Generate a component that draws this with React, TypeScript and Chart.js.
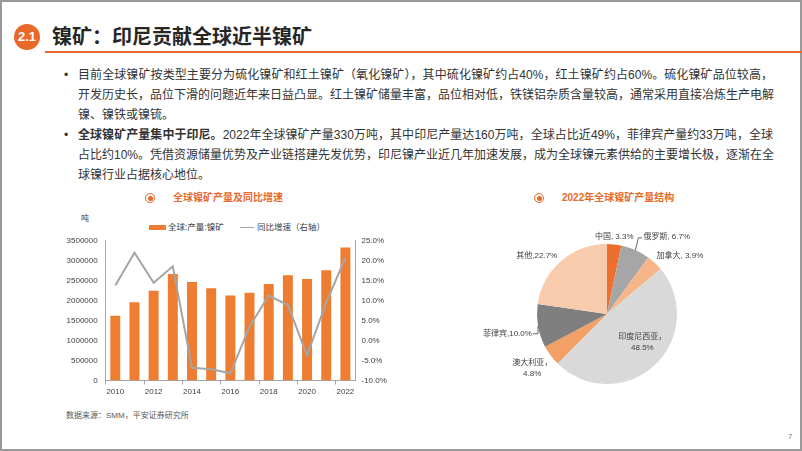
import React, { useEffect, useRef } from "react";
import { Chart, registerables } from "chart.js";

Chart.register(...registerables);

// ---------- data ----------
const YEARS = ["2010", "2011", "2012", "2013", "2014", "2015", "2016", "2017", "2018", "2019", "2020", "2021", "2022"];
const OUTPUT_T = [1620000, 1960000, 2250000, 2670000, 2470000, 2310000, 2130000, 2200000, 2420000, 2640000, 2540000, 2760000, 3330000];
const YOY_PCT = [13.8, 22.0, 14.5, 18.6, -6.8, -7.2, -8.2, 3.5, 11.3, 8.9, -3.7, 9.5, 20.8];
const BAR_LABEL = "全球:产量:镍矿";
const LINE_LABEL = "同比增速（右轴）";

const PIE_NAMES = ["中国", "俄罗斯", "加拿大", "印度尼西亚", "澳大利亚", "菲律宾", "其他"];
const PIE_SHARES = [3.3, 6.7, 3.9, 48.5, 4.8, 10.0, 22.7];
const PIE_SEPS = [", ", ", ", ", ", "，\n", "，\n", ",", ","];

// ---------- styles ----------
const FONT = '"Liberation Sans", "Noto Sans CJK SC", sans-serif';
const ORANGE = "#E8692A";
const PIE_COLORS = ["#EE6F2D", "#A6A6A6", "#F6B68A", "#D9D9D9", "#F3A066", "#7F7F7F", "#F8CBAD"];
// label placement relative to each slice: radial factor & angular nudge (deg)
const PIE_LABEL_PLACE = [
  { f: 1.11, nudge: -0.6, leader: "" },
  { f: 1.4, nudge: 13.6, leader: "up" },
  { f: 1.33, nudge: 8.5, leader: "" },
  { f: 0.645, nudge: -9, leader: "" },
  { f: 1.32, nudge: 0.6, leader: "" },
  { f: 1.45, nudge: -1.4, leader: "bracket" },
  { f: 1.3, nudge: -9.6, leader: "" },
];

const pieLabelPlugin = {
  id: "pieLabels",
  afterDatasetsDraw(chart: any) {
    const ctx = chart.ctx as CanvasRenderingContext2D;
    const meta = chart.getDatasetMeta(0);
    ctx.save();
    ctx.font = `8px ${FONT}`;
    ctx.fillStyle = "#404040";
    ctx.strokeStyle = "#404040";
    ctx.lineWidth = 0.8;
    ctx.textAlign = "center";
    ctx.textBaseline = "middle";
    meta.data.forEach((arc: any, i: number) => {
      const { x, y, startAngle, endAngle, outerRadius } = arc.getProps(
        ["x", "y", "startAngle", "endAngle", "outerRadius"],
        true
      );
      const mid = (startAngle + endAngle) / 2;
      const p = PIE_LABEL_PLACE[i];
      const a = mid + (p.nudge * Math.PI) / 180;
      const lx = x + Math.cos(a) * outerRadius * p.f;
      const ly = y + Math.sin(a) * outerRadius * p.f;
      const text = PIE_NAMES[i] + PIE_SEPS[i] + PIE_SHARES[i].toFixed(1) + "%";
      const lines = text.split("\n");
      const lh = 11;
      lines.forEach((ln, k) => {
        ctx.fillText(ln, lx, ly + (k - (lines.length - 1) / 2) * lh);
      });
      const w = Math.max(...lines.map((l) => ctx.measureText(l).width));
      const ex = x + Math.cos(mid) * outerRadius;
      const ey = y + Math.sin(mid) * outerRadius;
      if (p.leader === "up") {
        const left = lx - w / 2;
        ctx.beginPath();
        ctx.moveTo(ex, ey);
        ctx.lineTo(left - 5, ly + 1.5);
        ctx.lineTo(left - 1.5, ly + 1.5);
        ctx.stroke();
      } else if (p.leader === "bracket") {
        const right = lx + w / 2;
        ctx.beginPath();
        ctx.moveTo(ex, ey);
        ctx.lineTo(ex, ly);
        ctx.lineTo(right + 1, ly);
        ctx.stroke();
      }
    });
    ctx.restore();
  },
};

const abs = (o: React.CSSProperties): React.CSSProperties => ({ position: "absolute", whiteSpace: "nowrap", ...o });

function Icon({ cx, cy }: { cx: number; cy: number }) {
  return (
    <div style={abs({ left: cx - 5, top: cy - 5, width: 10, height: 10 })}>
      <div style={{ position: "absolute", inset: 0, border: `1.3px solid ${ORANGE}`, borderRadius: "50%", boxSizing: "border-box" }} />
      <div style={{ position: "absolute", left: 2.5, top: 2.5, width: 5, height: 5, background: ORANGE, borderRadius: "50%" }} />
    </div>
  );
}

export default function App() {
  const barRef = useRef<HTMLCanvasElement>(null);
  const pieRef = useRef<HTMLCanvasElement>(null);

  useEffect(() => {
    Chart.defaults.font.family = FONT;
    const axisColor = "#a6a6a6";
    const tickColor = "#404040";
    const c1 = new Chart(barRef.current!, {
      type: "bar",
      data: {
        labels: YEARS,
        datasets: [
          {
            type: "bar",
            label: BAR_LABEL,
            data: OUTPUT_T,
            backgroundColor: "#ED7D31",
            yAxisID: "y",
            barPercentage: 0.52,
            categoryPercentage: 1,
            order: 1,
          } as any,
          {
            type: "line",
            label: LINE_LABEL,
            data: YOY_PCT,
            borderColor: "#A5A5A5",
            borderWidth: 2,
            pointRadius: 0,
            tension: 0,
            yAxisID: "y1",
            order: 0,
          } as any,
        ],
      },
      options: {
        responsive: false,
        animation: false,
        layout: { padding: { top: 8, left: 0, right: 0, bottom: 0 } },
        plugins: { legend: { display: false }, tooltip: { enabled: false } },
        scales: {
          x: {
            offset: true,
            grid: {
              display: true,
              drawOnChartArea: false,
              drawTicks: true,
              tickLength: 4,
              offset: true,
              color: (c: any) => (c.index % 2 === 0 ? axisColor : "rgba(0,0,0,0)"),
            },
            border: { display: true, color: axisColor },
            ticks: {
              autoSkip: false,
              maxRotation: 0,
              padding: 2,
              color: tickColor,
              font: { size: 8 },
              callback: (_v: any, i: number) => (i % 2 === 0 ? YEARS[i] : ""),
            },
            afterFit: (s: any) => {
              s.height = 19.5;
            },
          } as any,
          y: {
            position: "left",
            min: 0,
            max: 3500000,
            grid: { display: false, drawTicks: false },
            border: { display: true, color: axisColor },
            ticks: { stepSize: 500000, padding: 8, color: tickColor, font: { size: 8 }, callback: (v: any) => String(v) },
            afterFit: (s: any) => {
              s.width = 50.7;
            },
          } as any,
          y1: {
            position: "right",
            min: -10,
            max: 25,
            grid: { display: false, drawTicks: false },
            border: { display: true, color: axisColor },
            ticks: {
              stepSize: 5,
              padding: 6.5,
              color: tickColor,
              font: { size: 8 },
              callback: (v: any) => Number(v).toFixed(1) + "%",
            },
            afterFit: (s: any) => {
              s.width = 45;
            },
          } as any,
        },
      },
    });

    const c2 = new Chart(pieRef.current!, {
      type: "pie",
      data: {
        labels: PIE_NAMES,
        datasets: [{ data: PIE_SHARES, backgroundColor: PIE_COLORS, borderWidth: 0 }],
      },
      options: {
        responsive: false,
        animation: false,
        layout: { padding: { left: 57, top: 19, right: 43, bottom: 21 } },
        plugins: { legend: { display: false }, tooltip: { enabled: false } },
      },
      plugins: [pieLabelPlugin],
    });

    return () => {
      c1.destroy();
      c2.destroy();
    };
  }, []);

  const textColor = "#333333";
  const lineStyle = (top: number, last: boolean): React.CSSProperties =>
    abs({
      left: 78,
      top,
      width: 695,
      height: 20,
      lineHeight: "20px",
      fontSize: 12,
      color: textColor,
      textAlign: last ? "left" : "justify",
      textAlignLast: last ? "left" : "justify",
    } as React.CSSProperties);

  return (
    <div
      style={{
        position: "absolute",
        left: 0,
        top: 0,
        width: 802,
        height: 451,
        background: "#fff",
        overflow: "hidden",
        fontFamily: FONT,
      }}
    >
      {/* slide border */}
      <div style={abs({ left: 0, top: 0, width: 802, height: 451, border: "2px solid #9a9a9a", boxSizing: "border-box" })} />

      {/* header */}
      <div
        style={abs({
          left: 14,
          top: 24,
          width: 26,
          height: 26,
          borderRadius: "50%",
          background: ORANGE,
          color: "#fff",
          fontWeight: 700,
          fontSize: 13,
          lineHeight: "26px",
          textAlign: "center",
        })}
      >
        2.1
      </div>
      <div style={abs({ left: 52, top: 23, fontSize: 20, lineHeight: "28px", fontWeight: 700, color: "#262626" })}>
        镍矿：印尼贡献全球近半镍矿
      </div>
      <div style={abs({ left: 45, top: 51, width: 757, height: 1.5, background: ORANGE })} />

      {/* bullets */}
      <div style={abs({ left: 64, top: 65, fontSize: 12, lineHeight: "20px", color: textColor })}>•</div>
      <div style={lineStyle(65, false)}>目前全球镍矿按类型主要分为硫化镍矿和红土镍矿（氧化镍矿），其中硫化镍矿约占40%，红土镍矿约占60%。硫化镍矿品位较高，</div>
      <div style={lineStyle(85, false)}>开发历史长，品位下滑的问题近年来日益凸显。红土镍矿储量丰富，品位相对低，铁镁铝杂质含量较高，通常采用直接冶炼生产电解</div>
      <div style={lineStyle(105, true)}>镍、镍铁或镍锍。</div>

      <div style={abs({ left: 64, top: 125, fontSize: 12, lineHeight: "20px", color: textColor })}>•</div>
      <div style={lineStyle(125, false)}>
        <b>全球镍矿产量集中于印尼。</b>2022年全球镍矿产量330万吨，其中印尼产量达160万吨，全球占比近49%，菲律宾产量约33万吨，全球
      </div>
      <div style={lineStyle(145, false)}>占比约10%。凭借资源储量优势及产业链搭建先发优势，印尼镍产业近几年加速发展，成为全球镍元素供给的主要增长极，逐渐在全</div>
      <div style={lineStyle(165, true)}>球镍行业占据核心地位。</div>

      {/* left chart header */}
      <Icon cx={150} cy={198} />
      <div style={abs({ left: 173, top: 190, fontSize: 10, lineHeight: "16px", fontWeight: 700, color: ORANGE })}>
        全球镍矿产量及同比增速
      </div>
      <div style={abs({ left: 81, top: 213, fontSize: 8, lineHeight: "12px", color: "#404040" })}>吨</div>
      <div style={abs({ left: 149, top: 224.5, width: 17, height: 5.5, background: "#ED7D31" })} />
      <div style={abs({ left: 168, top: 221, fontSize: 8.5, lineHeight: "12px", color: "#404040" })}>{BAR_LABEL}</div>
      <div style={abs({ left: 240, top: 226.5, width: 14, height: 1.5, background: "#A5A5A5" })} />
      <div style={abs({ left: 257, top: 221, fontSize: 8.5, lineHeight: "12px", color: "#404040" })}>{LINE_LABEL}</div>

      <canvas ref={barRef} width={345} height={172} style={abs({ left: 55, top: 228, width: 345, height: 172 })} />

      <div style={abs({ left: 66, top: 410, fontSize: 8, lineHeight: "12px", color: "#595959" })}>数据来源：SMM，平安证券研究所</div>

      {/* pie chart header */}
      <Icon cx={539} cy={198} />
      <div style={abs({ left: 562, top: 190, fontSize: 10, lineHeight: "16px", fontWeight: 700, color: ORANGE })}>
        2022年全球镍矿产量结构
      </div>
      <canvas ref={pieRef} width={240} height={180} style={abs({ left: 480, top: 225, width: 240, height: 180 })} />

      <div style={abs({ left: 788, top: 431, fontSize: 8, lineHeight: "12px", color: "#7f7f7f" })}>7</div>
    </div>
  );
}
